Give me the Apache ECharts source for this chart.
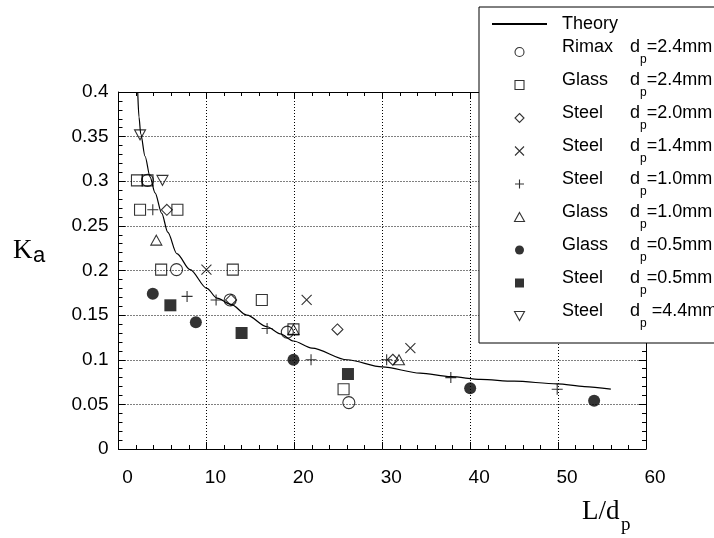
<!DOCTYPE html>
<html><head><meta charset="utf-8">
<script src="https://cdn.jsdelivr.net/npm/echarts@6/dist/echarts.min.js"></script>
<style>html,body{margin:0;padding:0;background:#fff}#c{width:714px;height:538px}</style>
</head><body><div id="c"></div>
<script>
// ---- data ----
const xMin = 0, xMax = 60, xStep = 10;
const yMin = 0, yMax = 0.4, yStep = 0.05;

const theory = [[2.19,0.399],[2.33,0.372],[2.53,0.353],[3.02,0.328],[3.59,0.305],[4.16,0.287],[4.92,0.264],[5.6,0.243],[6.63,0.219],[8.14,0.201],[10.05,0.180],[11.2,0.169],[12.8,0.162],[14.6,0.150],[16.9,0.137],[18.4,0.129],[19.9,0.121],[22.0,0.113],[26.0,0.100],[30.0,0.092],[34.3,0.085],[37.8,0.081],[41.2,0.078],[45.0,0.076],[49.9,0.073],[53.0,0.070],[56.0,0.067]];

const rimax24 = [[3.3,0.301],[6.6,0.201],[12.7,0.167],[19.2,0.131],[26.2,0.052]];
const glass24 = [[2.1,0.301],[3.3,0.301],[2.45,0.268],[6.7,0.268],[4.85,0.201],[13.0,0.201],[16.3,0.167],[19.9,0.134],[25.6,0.067]];
const steel20 = [[5.5,0.268],[12.8,0.167],[24.9,0.134],[31.2,0.100]];
const steel14 = [[10.0,0.201],[21.4,0.167],[33.2,0.113]];
const steel10 = [[3.9,0.268],[7.8,0.171],[11.1,0.167],[16.9,0.135],[21.9,0.100],[30.5,0.100],[37.8,0.080],[49.9,0.067]];
const glass10 = [[4.3,0.234],[19.9,0.134],[31.9,0.100]];
const glass05 = [[3.9,0.174],[8.8,0.142],[19.9,0.100],[40.0,0.068],[54.1,0.054]];
const steel05 = [[5.9,0.161],[14.0,0.130],[26.1,0.084]];
const steel44 = [[2.45,0.352],[5.0,0.301]];

const materials = ['Rimax','Glass','Steel','Steel','Steel','Glass','Glass','Steel','Steel'];
const diameters = ['2.4mm','2.4mm','2.0mm','1.4mm','1.0mm','1.0mm','0.5mm','0.5mm','4.4mm'];
const seriesData = [rimax24, glass24, steel20, steel14, steel10, glass10, glass05, steel05, steel44];
const theoryName = 'Theory';
const xTitle = 'L/d', xTitleSub = 'p';
const yTitle = 'K', yTitleSub = 'a';

// ---- styles ----
const rectPath = 'path://M0,0L10,0L10,10L0,10Z';
const diamondPath = 'path://M5,0L10,5L5,10L0,5Z';
const triPath = 'path://M5,0L10,9L0,9Z';
const crossPath = 'path://M0,0L10,10M10,0L0,10';
const plusPath = 'path://M5,0L5,10M0,5L10,5';
const invTriPath = 'path://M0,0L10,0L5,9Z';
const symbols = ['circle',rectPath,diamondPath,crossPath,plusPath,triPath,'circle',rectPath,invTriPath];
const filled = [false,false,false,false,false,false,true,true,false];
const symSizes = [12,11,11,10,11,11,12,12,11];

const names = materials.map((m,i)=> m + ' dp=' + diameters[i]);
const nameInfo = {};
names.forEach((n,i)=> nameInfo[n] = i);

const FONT = 'Liberation Sans, Arial, sans-serif';
const SERIF = 'Liberation Serif, Times New Roman, serif';

const series = [{
  name: theoryName, type: 'line', data: theory, symbol: 'none', smooth: 0.3, smoothMonotone: 'x',
  lineStyle: {color:'#000', width:1.2}, itemStyle: {color:'#000'}, z: 2, silent: true
}];
names.forEach((n,i)=>{
  series.push({
    name: n, type: 'scatter', data: seriesData[i], symbol: symbols[i], symbolSize: symSizes[i],
    symbolKeepAspect: true,
    itemStyle: filled[i] ? {color:'#000', borderColor:'#000', borderWidth:0}
                         : {color:'transparent', borderColor:'#000', borderWidth:1.1},
    z: 3
  });
});

const legendData = [{name: theoryName, itemStyle: {color:'transparent', borderWidth:0, opacity:0}}]
  .concat(names.map((n,i)=>({
    name: n,
    itemStyle: filled[i] ? {color:'#000', borderWidth:0} : {color:'transparent', borderColor:'#000', borderWidth:1.1}
  })));

const axisCommon = {
  type: 'value',
  axisLine: {show:true, onZero:false, lineStyle:{color:'#000', width:1}},
  axisTick: {show:true, inside:true, length:7, lineStyle:{color:'#000'}},
  minorTick: {show:true, splitNumber:5, length:4, lineStyle:{color:'#000'}},
};

const option = {
  animation: false,
  backgroundColor: '#fff',
  grid: {left:118.5, right:714-646, top:92, bottom:538-449, containLabel:false},
  xAxis: [
    Object.assign({}, axisCommon, {
      min:xMin, max:xMax, interval:xStep, position:'bottom',
      axisLabel: {color:'#000', fontSize:19, fontFamily:FONT, margin:19, padding:[0,0,0,18]},
      splitLine: {show:true, lineStyle:{color:'#000', type:[1,2], width:1}}
    }),
    Object.assign({}, axisCommon, {
      min:xMin, max:xMax, interval:xStep, position:'top',
      axisLabel: {show:false}, splitLine:{show:false}
    })
  ],
  yAxis: [
    Object.assign({}, axisCommon, {
      min:yMin, max:yMax, interval:yStep, position:'left',
      axisLabel: {color:'#000', fontSize:19, fontFamily:FONT, margin:10},
      splitLine: {show:true, lineStyle:{color:'#000', type:[1,2], width:1}}
    }),
    Object.assign({}, axisCommon, {
      min:yMin, max:yMax, interval:yStep, position:'right',
      axisLabel: {show:false}, splitLine:{show:false}
    })
  ],
  legend: {
    orient: 'vertical', left: 479, top: 7, align: 'left',
    padding: [8, 40, 13, 12],
    itemWidth: 55, itemHeight: 9, itemGap: 5,
    borderColor: '#000', borderWidth: 1, backgroundColor: '#fff',
    selectedMode: false, symbolKeepAspect: true,
    data: legendData,
    textStyle: {
      color: '#000', fontFamily: FONT, fontSize: 18, padding: [0,0,0,10],
      rich: {
        th: {fontSize:18, lineHeight:20, fontFamily:FONT, color:'#000'},
        n: {fontSize:18, lineHeight:20, padding:[0,0,10,0], width:68, fontFamily:FONT, color:'#000'},
        d: {fontSize:18, lineHeight:20, padding:[0,0,10,0], fontFamily:FONT, color:'#000'},
        s: {fontSize:12, lineHeight:12, padding:[16,0,0,0], fontFamily:FONT, color:'#000'},
        e: {fontSize:18, lineHeight:20, padding:[0,0,10,0], fontFamily:FONT, color:'#000'}
      }
    },
    formatter: function(name){
      if (name === theoryName) return '{th|' + name + '}';
      const i = nameInfo[name];
      const sp = (i === 8) ? ' =' : '=';
      return '{n|' + materials[i] + '}{d|d}{s|p}{e|' + sp + diameters[i] + '}';
    }
  },
  graphic: [
    {type:'text', style:{x:13, y:251, text:yTitle, font:'27px ' + SERIF, fill:'#000', verticalAlign:'middle'}},
    {type:'text', style:{x:33, y:256, text:yTitleSub, font:'22px ' + FONT, fill:'#000', verticalAlign:'middle'}},
    {type:'text', style:{x:582, y:512, text:xTitle, font:'27px ' + SERIF, fill:'#000', verticalAlign:'middle'}},
    {type:'text', style:{x:621, y:525, text:xTitleSub, font:'19px ' + SERIF, fill:'#000', verticalAlign:'middle'}}
  ],
  series: series
};
const chart = echarts.init(document.getElementById('c'), null, {renderer:'canvas'});
chart.setOption(option);
</script></body></html>
